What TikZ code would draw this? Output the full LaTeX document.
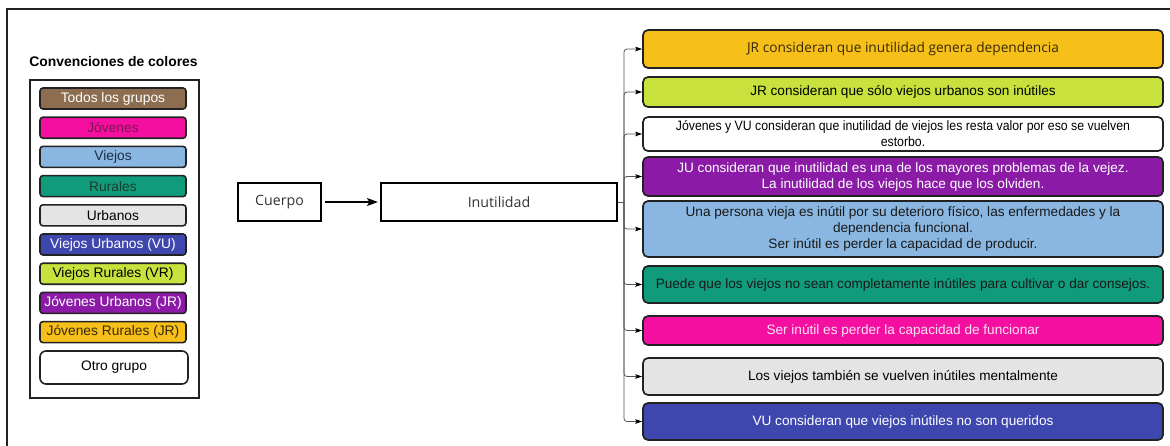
\documentclass[tikz,border=0pt]{standalone}
\usepackage{fontspec}
\usepackage{graphicx}
\setmainfont{Liberation Sans}
\newfontfamily\opensans{Open Sans}
\usetikzlibrary{arrows.meta}

\definecolor{cTodos}{HTML}{8C6D4F}
\definecolor{cJov}{HTML}{F50FA0}
\definecolor{cJovTxt}{HTML}{7A1450}
\definecolor{cVie}{HTML}{8AB7E1}
\definecolor{cVieTxt}{HTML}{1C2B48}
\definecolor{cRur}{HTML}{109B7B}
\definecolor{cRurTxt}{HTML}{1E3A2E}
\definecolor{cUrb}{HTML}{E4E4E4}
\definecolor{cVU}{HTML}{3E47AE}
\definecolor{cVR}{HTML}{C8E13C}
\definecolor{cJU}{HTML}{8B1BA7}
\definecolor{cJR}{HTML}{F6BF1A}
\definecolor{cJRTxt}{HTML}{3A2A05}
\definecolor{cEdge}{HTML}{222222}
\definecolor{cLink}{HTML}{555555}
\definecolor{cPinkTxt}{HTML}{FBE3F1}

\tikzset{
  legbox/.style={draw=cEdge, line width=1.6pt, rounded corners=3pt,
    minimum width=146pt, minimum height=21pt, inner sep=1pt,
    font=\fontsize{13.8}{15}\selectfont},
  rbox/.style={draw=cEdge, line width=1.7pt, rounded corners=5pt,
    minimum width=520pt, inner sep=1pt, align=center,
    font=\fontsize{13.6}{16}\selectfont},
  mainbox/.style={draw=black, line width=2.2pt, minimum height=38pt,
    inner sep=2pt, text=black!80, font=\opensans\fontsize{14.2}{16}\selectfont},
  branch/.style={draw=cLink, line width=0.8pt, rounded corners=3pt,
    -{Stealth[length=7pt, width=4.5pt, inset=1.5pt, color=black]}},
  mainarrow/.style={draw=black, line width=1.4pt,
    -{Stealth[length=11pt, width=8pt, inset=2.5pt]}},
}

\begin{document}
\begin{tikzpicture}[x=1pt, y=-1pt]
\useasboundingbox (0,0) rectangle (1170,445);
\begin{scope}
\clip (0,0) rectangle (1170,445);
% outer frame
\draw[line width=1.6pt, cEdge] (7,460) -- (7,9) -- (1180,9);
\end{scope}

% colour legend
\node[font=\bfseries\fontsize{13.9}{15}\selectfont] (legtitle) at (113.5,62) {Convenciones de colores};
\draw[line width=1.6pt, cEdge] (30,80) rectangle (199,398);
\node[legbox, fill=cTodos, text=white]   (l1) at (113,98.5)  {Todos los grupos};
\node[legbox, fill=cJov, text=cJovTxt]   (l2) at (113,127.7) {Jóvenes};
\node[legbox, fill=cVie, text=cVieTxt]   (l3) at (113,156.9) {Viejos};
\node[legbox, fill=cRur, text=cRurTxt]   (l4) at (113,186.1) {Rurales};
\node[legbox, fill=cUrb, text=black]     (l5) at (113,215.3) {Urbanos};
\node[legbox, fill=cVU, text=white]      (l6) at (113,244.5) {Viejos Urbanos (VU)};
\node[legbox, fill=cVR, text=black]      (l7) at (113,273.7) {Viejos Rurales (VR)};
\node[legbox, fill=cJU, text=white]      (l8) at (113,302.9) {Jóvenes Urbanos (JR)};
\node[legbox, fill=cJR, text=cJRTxt]     (l9) at (113,332.1) {Jóvenes Rurales (JR)};
\node[legbox, fill=white, text=black, minimum width=148pt, minimum height=33pt,
      rounded corners=6pt] (l10) at (114,367.5) {Otro grupo};

% main chain
\node[mainbox, minimum width=83pt]  (cuerpo) at (279.5,202) {Cuerpo};
\node[mainbox, minimum width=236pt] (inut)   at (499,202)   {Inutilidad};
\draw[mainarrow] (cuerpo.east) ++(3,0) -- ([xshift=-2pt]inut.west);

% statements
\node[rbox, fill=cJR, text=cJRTxt, minimum height=38pt, font=\opensans\fontsize{13.7}{16}\selectfont]
  (b1) at (903,49) {JR consideran que inutilidad genera dependencia};
\node[rbox, fill=cVR, text=black, minimum height=30pt]
  (b2) at (903,92) {JR consideran que sólo viejos urbanos son inútiles};
\node[rbox, fill=white, text=black, minimum height=34pt]
  (b3) at (903,134) {\scalebox{0.905}[1]{Jóvenes y VU consideran que inutilidad de viejos les resta valor por eso se vuelven}\\\scalebox{0.905}[1]{estorbo.}};
\node[rbox, fill=cJU, text=white, minimum height=39pt]
  (b4) at (903,176.5) {JU consideran que inutilidad es una de los mayores problemas de la vejez.\\La inutilidad de los viejos hace que los olviden.};
\node[rbox, fill=cVie, text=black!90, minimum height=56pt]
  (b5) at (903,229) {Una persona vieja es inútil por su deterioro físico, las enfermedades y la\\dependencia funcional.\\Ser inútil es perder la capacidad de producir.};
\node[rbox, fill=cRur, text=black!90, minimum height=37pt]
  (b6) at (903,284.5) {Puede que los viejos no sean completamente inútiles para cultivar o dar consejos.};
\node[rbox, fill=cJov, text=cPinkTxt, minimum height=29pt]
  (b7) at (903,330.5) {Ser inútil es perder la capacidad de funcionar};
\node[rbox, fill=cUrb, text=black, minimum height=37pt]
  (b8) at (903,376.5) {Los viejos también se vuelven inútiles mentalmente};
\node[rbox, fill=cVU, text=white, minimum height=37pt]
  (b9) at (903,421.5) {VU consideran que viejos inútiles no son queridos};

% fan-out connectors
\coordinate (fork) at (624,202);
\draw[draw=cLink, line width=0.8pt] (inut.east) -- (fork);
\foreach \b in {b1,b2,b3,b4,b5,b6,b7,b8,b9}
  \draw[branch] (fork) |- (\b.west);
\end{tikzpicture}
\end{document}
